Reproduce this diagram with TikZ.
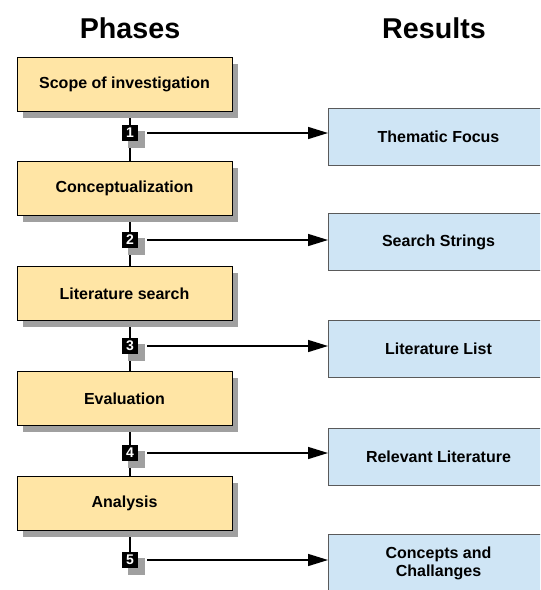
\documentclass[tikz,border=0pt]{standalone}
\usepackage{fontspec}
\setmainfont{Liberation Sans}
\usetikzlibrary{shadows,arrows.meta}

\definecolor{phasefill}{RGB}{255,229,165}
\definecolor{resultfill}{RGB}{207,229,245}
\definecolor{shadowgray}{RGB}{160,160,160}
\definecolor{rborder}{RGB}{90,90,90}

\tikzset{
  phasebox/.style={draw=black, line width=0.75pt, fill=phasefill,
    minimum width=161.25pt, minimum height=40.5pt, inner sep=0pt,
    font=\bfseries\fontsize{12}{13.5}\selectfont,
    drop shadow={shadow xshift=4.5pt, shadow yshift=-4.5pt, fill=shadowgray, opacity=1}},
  resultbox/.style={draw=rborder, line width=0.75pt, fill=resultfill,
    minimum width=165pt, minimum height=43pt, inner sep=0pt,
    font=\bfseries\fontsize{12}{13.5}\selectfont, align=center},
  badge/.style={fill=black, text=white, minimum width=12.5pt, minimum height=12.5pt,
    inner sep=0pt, font=\bfseries\fontsize{10.5}{10.5}\selectfont,
    drop shadow={shadow xshift=5pt, shadow yshift=-5pt, fill=shadowgray, opacity=1}},
  spine/.style={line width=1.5pt},
  resultarrow/.style={line width=1.1pt, -{Triangle[length=15pt,width=9pt]}},
  heading/.style={font=\bfseries\fontsize{21.5}{25}\selectfont}
}

\begin{document}
\begin{tikzpicture}[x=0.75pt, y=-0.75pt]
  \useasboundingbox (0,0) rectangle (540,590);
  \clip (0,0) rectangle (540,590);

  % column headings
  \node[heading] (hphases) at (130,28) {Phases};
  \node[heading] (hresults) at (434,28) {Results};

  % number badges on the spine
  \node[badge] (b1) at (130,133) {1};
  \node[badge] (b2) at (130,240) {2};
  \node[badge] (b3) at (130,346) {3};
  \node[badge] (b4) at (130,453) {4};
  \node[badge] (b5) at (130,560) {5};

  % vertical spine (drawn before the boxes so the boxes sit on top)
  \coordinate (top) at (130,85);
  \draw[spine] (top) -- (b5.center);

  % phases
  \node[phasebox] (p1) at (124.5,84.5) {Scope of investigation};
  \node[phasebox] (p2) at (124.5,188.5) {Conceptualization};
  \node[phasebox] (p3) at (124.5,293.5) {Literature search};
  \node[phasebox] (p4) at (124.5,398.5) {Evaluation};
  \node[phasebox] (p5) at (124.5,503.5) {Analysis};

  % redraw badges above the spine
  \node[badge] at (b1) {1};
  \node[badge] at (b2) {2};
  \node[badge] at (b3) {3};
  \node[badge] at (b4) {4};
  \node[badge] at (b5) {5};

  % results
  \node[resultbox, anchor=west] (r1) at (328,137) {Thematic Focus};
  \node[resultbox, anchor=west] (r2) at (328,242) {Search Strings};
  \node[resultbox, anchor=west] (r3) at (328,349) {Literature List};
  \node[resultbox, anchor=west] (r4) at (328,457) {Relevant Literature};
  \node[resultbox, anchor=west] (r5) at (328,563) {Concepts and\\Challanges};

  % arrows from badges to results
  \coordinate (a1) at (147,133);
  \coordinate (a2) at (147,240);
  \coordinate (a3) at (147,346);
  \coordinate (a4) at (147,453);
  \coordinate (a5) at (147,560);
  \draw[resultarrow] (a1) -- (a1 -| r1.west);
  \draw[resultarrow] (a2) -- (a2 -| r2.west);
  \draw[resultarrow] (a3) -- (a3 -| r3.west);
  \draw[resultarrow] (a4) -- (a4 -| r4.west);
  \draw[resultarrow] (a5) -- (a5 -| r5.west);
\end{tikzpicture}
\end{document}
